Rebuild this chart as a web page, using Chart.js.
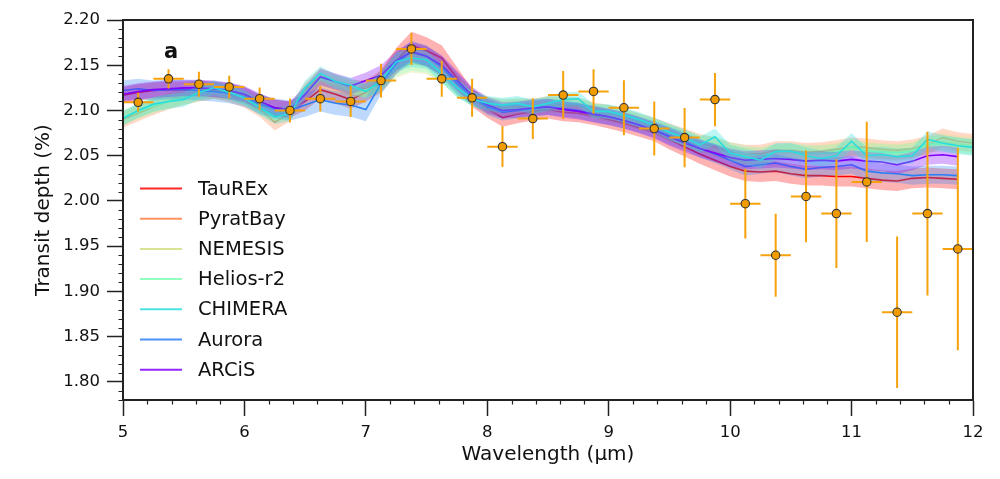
<!DOCTYPE html>
<html>
<head>
<meta charset="utf-8">
<script src="https://cdn.jsdelivr.net/npm/chart.js@4.4.1/dist/chart.umd.min.js"></script>
<style>
  body { margin: 0; background: #fff; }
  #wrap { width: 1000px; height: 479px; }
</style>
</head>
<body>
<div id="wrap"><canvas id="myChart" width="1000" height="479"></canvas></div>
<script>
// model wavelength grid (um)
const wavelengths = [5.000, 5.125, 5.250, 5.375, 5.500, 5.625, 5.750, 5.875, 6.000, 6.125,
  6.250, 6.375, 6.500, 6.625, 6.750, 6.875, 7.000, 7.125, 7.250, 7.375,
  7.500, 7.625, 7.750, 7.875, 8.000, 8.125, 8.250, 8.375, 8.500, 8.625,
  8.750, 8.875, 9.000, 9.125, 9.250, 9.375, 9.500, 9.625, 9.750, 9.875,
  10.000, 10.125, 10.250, 10.375, 10.500, 10.625, 10.750, 10.875, 11.000, 11.125,
  11.250, 11.375, 11.500, 11.625, 11.750, 11.875, 12.000];

// median model spectra, transit depth (%)
const tauRExDepth = [2.117, 2.120, 2.122, 2.123, 2.123, 2.124, 2.123, 2.121, 2.117, 2.108,
  2.103, 2.101, 2.110, 2.123, 2.118, 2.112, 2.120, 2.132, 2.155, 2.172,
  2.166, 2.158, 2.136, 2.114, 2.102, 2.092, 2.096, 2.099, 2.101, 2.098,
  2.097, 2.094, 2.090, 2.086, 2.081, 2.076, 2.068, 2.060, 2.052, 2.045,
  2.038, 2.033, 2.032, 2.033, 2.030, 2.028, 2.028, 2.027, 2.027, 2.025,
  2.023, 2.022, 2.025, 2.026, 2.025, 2.024, null];
const pyratBayDepth = [2.090, 2.097, 2.104, 2.110, 2.115, 2.119, 2.122, 2.118, 2.112, 2.102,
  2.087, 2.097, 2.122, 2.138, 2.131, 2.125, 2.124, 2.134, 2.155, 2.163,
  2.160, 2.148, 2.130, 2.115, 2.106, 2.103, 2.104, 2.104, 2.107, 2.106,
  2.105, 2.100, 2.097, 2.093, 2.088, 2.083, 2.076, 2.070, 2.064, 2.060,
  2.055, 2.052, 2.052, 2.056, 2.056, 2.054, 2.055, 2.057, 2.060, 2.059,
  2.057, 2.056, 2.058, 2.062, 2.070, 2.066, 2.064];
const nemesisDepth = [2.092, 2.099, 2.106, 2.111, 2.116, 2.120, 2.121, 2.119, 2.113, 2.104,
  2.094, 2.098, 2.118, 2.133, 2.128, 2.123, 2.122, 2.130, 2.146, 2.152,
  2.150, 2.140, 2.126, 2.113, 2.105, 2.102, 2.103, 2.104, 2.106, 2.105,
  2.104, 2.099, 2.096, 2.092, 2.087, 2.082, 2.075, 2.069, 2.063, 2.058,
  2.053, 2.050, 2.050, 2.053, 2.054, 2.052, 2.053, 2.055, 2.058, 2.056,
  2.055, 2.054, 2.056, 2.061, 2.066, 2.063, 2.061];
const heliosDepth = [2.093, 2.099, 2.105, 2.110, 2.114, 2.118, 2.121, 2.119, 2.114, 2.105,
  2.096, 2.099, 2.120, 2.136, 2.131, 2.126, 2.122, 2.131, 2.148, 2.154,
  2.152, 2.141, 2.125, 2.113, 2.107, 2.105, 2.106, 2.105, 2.107, 2.108,
  2.107, 2.100, 2.098, 2.094, 2.089, 2.083, 2.076, 2.070, 2.064, 2.063,
  2.056, 2.052, 2.050, 2.054, 2.055, 2.053, 2.052, 2.054, 2.060, 2.055,
  2.054, 2.053, 2.055, 2.063, 2.063, 2.061, 2.060];
const chimeraDepth = [2.091, 2.100, 2.107, 2.110, 2.112, 2.120, 2.125, 2.120, 2.114, 2.103,
  2.093, 2.096, 2.125, 2.141, 2.132, 2.128, 2.121, 2.133, 2.154, 2.158,
  2.156, 2.141, 2.125, 2.113, 2.108, 2.106, 2.108, 2.104, 2.108, 2.112,
  2.113, 2.099, 2.099, 2.095, 2.090, 2.084, 2.076, 2.070, 2.062, 2.071,
  2.053, 2.049, 2.045, 2.055, 2.055, 2.050, 2.047, 2.050, 2.066, 2.050,
  2.051, 2.049, 2.050, 2.068, 2.064, 2.061, 2.059];
const auroraDepth = [2.122, 2.124, 2.122, 2.123, 2.123, 2.122, 2.121, 2.119, 2.115, 2.107,
  2.102, 2.100, 2.106, 2.112, 2.108, 2.106, 2.101, 2.130, 2.152, 2.165,
  2.160, 2.148, 2.130, 2.115, 2.104, 2.098, 2.100, 2.102, 2.104, 2.102,
  2.100, 2.096, 2.093, 2.089, 2.084, 2.079, 2.072, 2.066, 2.058, 2.052,
  2.045, 2.038, 2.040, 2.042, 2.038, 2.035, 2.037, 2.038, 2.040, 2.033,
  2.031, 2.030, 2.028, 2.029, 2.029, 2.028, null];
const arcisDepth = [2.118, 2.121, 2.123, 2.124, 2.125, 2.125, 2.124, 2.122, 2.118, 2.110,
  2.103, 2.101, 2.118, 2.137, 2.132, 2.127, 2.133, 2.139, 2.155, 2.165,
  2.160, 2.150, 2.133, 2.117, 2.106, 2.100, 2.101, 2.103, 2.104, 2.101,
  2.099, 2.096, 2.093, 2.089, 2.084, 2.078, 2.071, 2.064, 2.058, 2.053,
  2.048, 2.045, 2.046, 2.047, 2.046, 2.044, 2.045, 2.044, 2.046, 2.044,
  2.043, 2.040, 2.044, 2.050, 2.051, 2.049, null];

// 1-sigma half widths of the model bands
const tauRExBand = [0.009, 0.009, 0.009, 0.009, 0.009, 0.009, 0.009, 0.009, 0.009, 0.009,
  0.009, 0.009, 0.010, 0.010, 0.010, 0.010, 0.010, 0.012, 0.014, 0.015,
  0.015, 0.014, 0.012, 0.010, 0.010, 0.010, 0.010, 0.010, 0.010, 0.010,
  0.010, 0.010, 0.010, 0.010, 0.010, 0.010, 0.011, 0.011, 0.011, 0.011,
  0.011, 0.011, 0.011, 0.011, 0.011, 0.011, 0.011, 0.011, 0.011, 0.011,
  0.011, 0.011, 0.011, 0.011, 0.011, 0.011, null];
const pyratBayBand = [0.009, 0.009, 0.009, 0.009, 0.009, 0.009, 0.009, 0.009, 0.009, 0.009,
  0.009, 0.009, 0.009, 0.009, 0.009, 0.009, 0.009, 0.011, 0.011, 0.011,
  0.011, 0.011, 0.011, 0.009, 0.009, 0.009, 0.009, 0.009, 0.009, 0.009,
  0.009, 0.009, 0.009, 0.009, 0.009, 0.009, 0.010, 0.010, 0.010, 0.010,
  0.010, 0.010, 0.010, 0.010, 0.010, 0.010, 0.010, 0.010, 0.010, 0.010,
  0.010, 0.010, 0.010, 0.010, 0.010, 0.010, 0.010];
const nemesisBand = [0.008, 0.008, 0.008, 0.008, 0.008, 0.008, 0.008, 0.008, 0.008, 0.008,
  0.008, 0.008, 0.008, 0.008, 0.008, 0.008, 0.008, 0.010, 0.010, 0.010,
  0.010, 0.010, 0.010, 0.008, 0.008, 0.008, 0.008, 0.008, 0.008, 0.008,
  0.008, 0.008, 0.008, 0.008, 0.008, 0.008, 0.009, 0.009, 0.009, 0.009,
  0.009, 0.009, 0.009, 0.009, 0.009, 0.009, 0.009, 0.009, 0.009, 0.009,
  0.009, 0.009, 0.009, 0.009, 0.009, 0.009, 0.009];
const heliosBand = [0.008, 0.008, 0.008, 0.008, 0.008, 0.008, 0.008, 0.008, 0.008, 0.008,
  0.008, 0.008, 0.008, 0.008, 0.008, 0.008, 0.008, 0.010, 0.010, 0.010,
  0.010, 0.010, 0.010, 0.008, 0.008, 0.008, 0.008, 0.008, 0.008, 0.008,
  0.008, 0.008, 0.008, 0.008, 0.008, 0.008, 0.009, 0.009, 0.009, 0.009,
  0.009, 0.009, 0.009, 0.009, 0.009, 0.009, 0.009, 0.009, 0.009, 0.009,
  0.009, 0.009, 0.009, 0.009, 0.009, 0.009, 0.009];
const chimeraBand = [0.008, 0.008, 0.008, 0.008, 0.008, 0.008, 0.008, 0.008, 0.008, 0.008,
  0.008, 0.008, 0.008, 0.008, 0.008, 0.008, 0.008, 0.010, 0.010, 0.010,
  0.010, 0.010, 0.010, 0.008, 0.008, 0.008, 0.008, 0.008, 0.008, 0.008,
  0.008, 0.008, 0.008, 0.008, 0.008, 0.008, 0.009, 0.009, 0.009, 0.009,
  0.009, 0.009, 0.009, 0.009, 0.009, 0.009, 0.009, 0.009, 0.009, 0.009,
  0.009, 0.009, 0.009, 0.009, 0.009, 0.009, 0.009];
const auroraBand = [0.011, 0.011, 0.011, 0.011, 0.011, 0.011, 0.011, 0.011, 0.011, 0.011,
  0.011, 0.011, 0.013, 0.013, 0.013, 0.013, 0.013, 0.012, 0.012, 0.012,
  0.012, 0.012, 0.012, 0.009, 0.009, 0.009, 0.009, 0.009, 0.009, 0.009,
  0.009, 0.009, 0.009, 0.009, 0.009, 0.009, 0.010, 0.010, 0.010, 0.010,
  0.010, 0.010, 0.010, 0.010, 0.010, 0.010, 0.010, 0.010, 0.010, 0.010,
  0.010, 0.010, 0.010, 0.010, 0.010, 0.010, null];
const arcisBand = [0.009, 0.009, 0.009, 0.009, 0.009, 0.009, 0.009, 0.009, 0.009, 0.009,
  0.009, 0.009, 0.009, 0.009, 0.009, 0.009, 0.009, 0.011, 0.011, 0.011,
  0.011, 0.011, 0.011, 0.009, 0.009, 0.009, 0.009, 0.009, 0.009, 0.009,
  0.009, 0.009, 0.009, 0.009, 0.009, 0.009, 0.010, 0.010, 0.010, 0.010,
  0.010, 0.010, 0.010, 0.010, 0.010, 0.010, 0.010, 0.010, 0.010, 0.010,
  0.010, 0.010, 0.010, 0.010, 0.010, 0.010, null];

const modelNames = ['TauREx', 'PyratBay', 'NEMESIS', 'Helios-r2', 'CHIMERA', 'Aurora', 'ARCiS'];
const modelColors = ['#ff0000', '#ff8042', '#d4dd80', '#80ffb4', '#2adddd', '#2a80f6', '#8000ff'];
const modelDepths = [tauRExDepth, pyratBayDepth, nemesisDepth, heliosDepth, chimeraDepth, auroraDepth, arcisDepth];
const modelBands = [tauRExBand, pyratBayBand, nemesisBand, heliosBand, chimeraBand, auroraBand, arcisBand];
// stacking (0 = bottom): CHIMERA ends up on top
const modelLayer = [0, 1, 2, 3, 6, 4, 5];

// observed spectrum
const obsWavelength = [5.125, 5.375, 5.625, 5.875, 6.125, 6.375, 6.625, 6.875, 7.125, 7.375,
  7.625, 7.875, 8.125, 8.375, 8.625, 8.875, 9.125, 9.375, 9.625, 9.875,
  10.125, 10.375, 10.625, 10.875, 11.125, 11.375, 11.625, 11.875];
const obsWavelengthErr = [0.125, 0.125, 0.125, 0.125, 0.125, 0.125, 0.125, 0.125, 0.125, 0.125,
  0.125, 0.125, 0.125, 0.125, 0.125, 0.125, 0.125, 0.125, 0.125, 0.125,
  0.125, 0.125, 0.125, 0.125, 0.125, 0.125, 0.125, 0.125];
const obsDepth = [2.109, 2.135, 2.129, 2.126, 2.113, 2.100, 2.113, 2.110, 2.133, 2.168,
  2.135, 2.114, 2.060, 2.091, 2.117, 2.121, 2.103, 2.080, 2.070, 2.112,
  1.997, 1.940, 2.005, 1.986, 2.021, 1.877, 1.986, 1.947];
const obsDepthErr = [0.0105, 0.0107, 0.0138, 0.0125, 0.0125, 0.0132, 0.0141, 0.0173, 0.0187, 0.0176,
  0.0199, 0.0210, 0.0226, 0.0224, 0.0265, 0.0246, 0.0303, 0.0298, 0.0328, 0.0294,
  0.0386, 0.0458, 0.0507, 0.0601, 0.0665, 0.0838, 0.0904, 0.1119];

const xTicks = [5, 6, 7, 8, 9, 10, 11, 12];
const yTicks = [1.80, 1.85, 1.90, 1.95, 2.00, 2.05, 2.10, 2.15, 2.20];

Chart.defaults.font.family = "'DejaVu Sans', sans-serif";
Chart.defaults.color = '#111';

function rgba(hex, a) {
  const n = parseInt(hex.slice(1), 16);
  return `rgba(${(n >> 16) & 255}, ${(n >> 8) & 255}, ${n & 255}, ${a})`;
}

function points(vals) {
  return wavelengths.map((x, i) => ({ x, y: vals[i] })).filter(p => p.y != null);
}

const datasets = [];
modelNames.forEach((name, k) => {
  const depth = modelDepths[k], band = modelBands[k];
  const base = 1000 - modelLayer[k] * 10;
  datasets.push({
    label: name + ' upper',
    data: points(depth.map((v, i) => v == null ? null : v + band[i])),
    borderWidth: 0, pointRadius: 0, fill: '+1',
    backgroundColor: rgba(modelColors[k], 0.3),
    order: base
  });
  datasets.push({
    label: name + ' lower',
    data: points(depth.map((v, i) => v == null ? null : v - band[i])),
    borderWidth: 0, pointRadius: 0, fill: false,
    order: base - 1
  });
  datasets.push({
    label: name,
    data: points(depth),
    borderColor: modelColors[k], borderWidth: 1.6,
    pointRadius: 0, fill: false,
    order: base - 2
  });
});

const obsIndex = datasets.length;
datasets.push({
  label: 'Observed',
  data: obsWavelength.map((x, i) => ({ x, y: obsDepth[i] })),
  showLine: false,
  pointRadius: 4.2,
  pointBackgroundColor: '#f09c00',
  pointBorderColor: '#333',
  pointBorderWidth: 1.1,
  order: 0
});

const errorBars = {
  id: 'errorBars',
  beforeDatasetDraw(chart, args) {
    if (args.index !== obsIndex) return;
    const { ctx, chartArea, scales: { x, y } } = chart;
    ctx.save();
    ctx.beginPath();
    ctx.rect(chartArea.left, chartArea.top, chartArea.width, chartArea.height);
    ctx.clip();
    ctx.strokeStyle = '#f5a20c';
    ctx.lineWidth = 2;
    obsDepth.forEach((d, i) => {
      const px = x.getPixelForValue(obsWavelength[i]);
      const py = y.getPixelForValue(d);
      ctx.beginPath();
      ctx.moveTo(x.getPixelForValue(obsWavelength[i] - obsWavelengthErr[i]), py);
      ctx.lineTo(x.getPixelForValue(obsWavelength[i] + obsWavelengthErr[i]), py);
      ctx.moveTo(px, y.getPixelForValue(d + obsDepthErr[i]));
      ctx.lineTo(px, y.getPixelForValue(d - obsDepthErr[i]));
      ctx.stroke();
    });
    ctx.restore();
  }
};

const decorations = {
  id: 'decorations',
  afterDraw(chart) {
    const { ctx, chartArea: a, scales: { x, y } } = chart;
    ctx.save();
    // minor ticks
    ctx.strokeStyle = '#222';
    ctx.lineWidth = 1.2;
    ctx.beginPath();
    for (let k = 178; k <= 220; k++) {
      if (k % 5 === 0) continue;
      const py = Math.round(y.getPixelForValue(k / 100)) + 0.5;
      ctx.moveTo(a.left, py);
      ctx.lineTo(a.left - 4.5, py);
    }
    for (let k = 25; k <= 60; k++) {
      if (k % 5 === 0) continue;
      const px = Math.round(x.getPixelForValue(k / 5)) + 0.5;
      ctx.moveTo(px, a.bottom);
      ctx.lineTo(px, a.bottom + 4.5);
    }
    ctx.stroke();
    // frame
    ctx.lineWidth = 2;
    ctx.strokeRect(a.left, a.top, a.right - a.left, a.bottom - a.top);
    // panel label
    ctx.fillStyle = '#111';
    ctx.font = "bold 21px 'DejaVu Sans'";
    ctx.textBaseline = 'alphabetic';
    ctx.fillText('a', 164, 58);
    // legend
    ctx.font = "19.5px 'DejaVu Sans'";
    ctx.textBaseline = 'middle';
    modelNames.forEach((name, k) => {
      const ly = 188.5 + k * 30.2;
      ctx.strokeStyle = rgba(modelColors[k], 0.85);
      ctx.lineWidth = 2;
      ctx.beginPath();
      ctx.moveTo(140, ly);
      ctx.lineTo(182, ly);
      ctx.stroke();
      ctx.fillStyle = '#111';
      ctx.fillText(name, 198, ly + 1);
    });
    ctx.restore();
  }
};

new Chart(document.getElementById('myChart'), {
  type: 'line',
  data: { datasets },
  options: {
    responsive: false,
    animation: false,
    layout: { padding: { top: 20, right: 27, left: 0, bottom: 0 } },
    elements: { line: { tension: 0 } },
    plugins: {
      legend: { display: false },
      tooltip: { enabled: false },
      filler: { propagate: false }
    },
    scales: {
      x: {
        type: 'linear',
        min: 5,
        max: 12,
        afterBuildTicks: s => { s.ticks = xTicks.map(v => ({ value: v })); },
        afterFit: s => { s.height = 79; },
        ticks: { font: { size: 16.5 }, color: '#111', padding: 7, maxRotation: 0 },
        grid: { drawOnChartArea: false, tickLength: 16, tickColor: '#222', tickWidth: 1.5 },
        border: { display: true, color: '#222', width: 2 },
        title: { display: true, text: 'Wavelength (\u03bcm)', font: { size: 20 }, color: '#111', padding: { top: 0, bottom: 12 } }
      },
      y: {
        min: 1.78,
        max: 2.20,
        afterBuildTicks: s => { s.ticks = yTicks.map(v => ({ value: v })); },
        afterFit: s => { s.width = 123; },
        ticks: { font: { size: 16.5 }, color: '#111', padding: 7, callback: v => Number(v).toFixed(2) },
        grid: { drawOnChartArea: false, tickLength: 16, tickColor: '#222', tickWidth: 1.5 },
        border: { display: true, color: '#222', width: 2 },
        title: { display: true, text: 'Transit depth (%)', font: { size: 20 }, color: '#111', padding: { top: 32, bottom: 0 } }
      }
    }
  },
  plugins: [errorBars, decorations]
});
</script>
</body>
</html>
